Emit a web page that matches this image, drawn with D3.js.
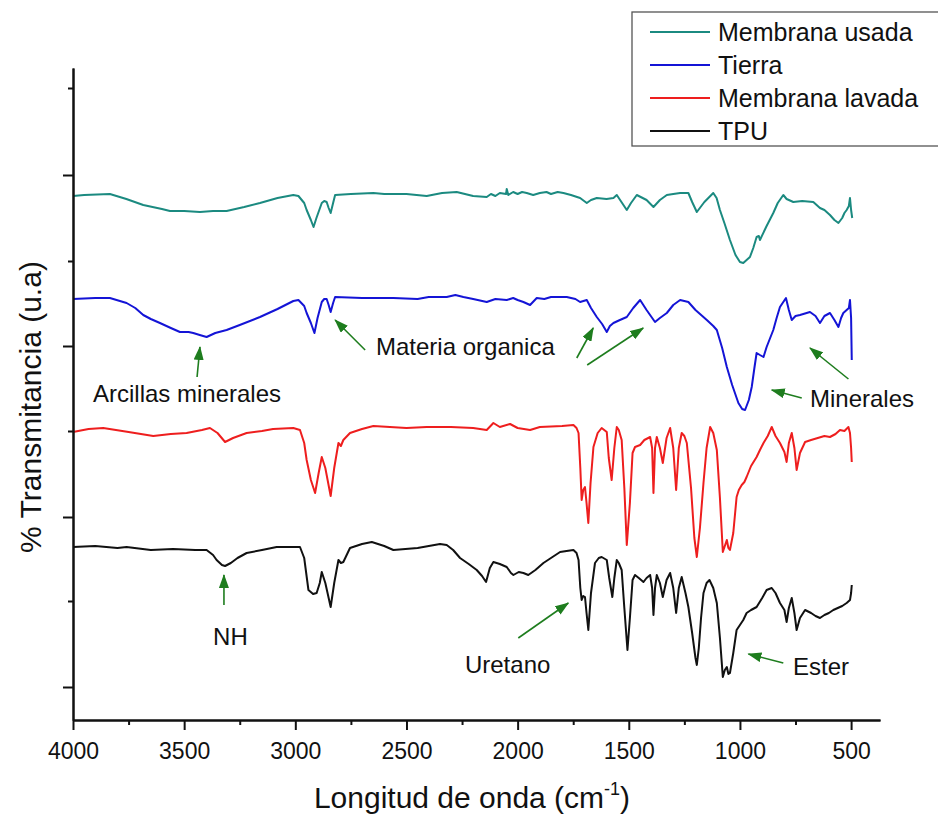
<!DOCTYPE html>
<html>
<head>
<meta charset="utf-8">
<script src="https://cdn.jsdelivr.net/npm/d3@7"></script>
<style>
  html, body { margin: 0; padding: 0; background: #fff; }
  svg { display: block; font-family: "Liberation Sans", Arial, sans-serif; }
</style>
</head>
<body>
<svg id="chart" width="938" height="818"></svg>
<script>
// ---------- DATA (wavenumber cm-1, transmittance in arbitrary units) ----------
const seriesNames = ["Membrana usada", "Tierra", "Membrana lavada", "TPU"];
const seriesColors = ["#1b8a80", "#1414d6", "#ee1e1e", "#111111"];

const usadaData = [[4000,522],[3950,523],[3834,524],[3760,519],[3684,513],[3600,509],[3564,507],[3500,507],[3429,506],[3370,507],[3309,507],[3230,511],[3159,515],[3080,520],[3009,523],[2986,522],[2960,515],[2949,508],[2930,498],[2918,491],[2905,500],[2881,515],[2870,517],[2859,516],[2850,510],[2841,505],[2830,515],[2821,523],[2750,524],[2649,525],[2600,524],[2500,524],[2409,522],[2340,525],[2274,526],[2200,522],[2139,521],[2120,524],[2100,522],[2080,525],[2052,524],[2049,529],[2042,523],[2020,526],[2000,524],[1980,526],[1959,525],[1930,523],[1900,525],[1870,526],[1850,524],[1820,526],[1794,525],[1760,523],[1719,520],[1689,515],[1670,518],[1644,520],[1600,519],[1569,520],[1554,523],[1530,515],[1509,508],[1490,515],[1464,523],[1420,518],[1389,511],[1360,518],[1329,523],[1300,524],[1269,525],[1232,525],[1215,516],[1194,506],[1160,516],[1120,525],[1105,520],[1090,508],[1070,495],[1045,478],[1020,463],[1000,456],[985,455],[970,458],[955,461],[940,470],[925,481],[915,482],[910,478],[880,492],[850,505],[830,515],[805,523],[790,519],[760,516],[720,517],[670,516],[640,510],[620,508],[595,503],[575,498],[557,495],[540,500],[530,505],[520,508],[510,512],[505,520],[500,508],[495,500]];

const tierraData = [[4000,419],[3900,420],[3834,420],[3759,415],[3720,410],[3684,403],[3650,399],[3609,395],[3560,390],[3519,386],[3480,386],[3459,385],[3430,383],[3399,381],[3360,385],[3309,388],[3250,393],[3159,401],[3080,409],[3009,417],[2986,418],[2960,412],[2949,405],[2930,395],[2914,385],[2900,400],[2881,416],[2870,419],[2859,419],[2850,413],[2841,406],[2830,415],[2821,421],[2700,420],[2559,420],[2450,419],[2400,421],[2319,421],[2280,423],[2244,421],[2200,419],[2139,416],[2100,419],[2049,418],[2020,420],[2000,418],[1974,416],[1944,413],[1914,420],[1880,419],[1850,421],[1779,421],[1740,419],[1719,416],[1689,418],[1670,410],[1644,401],[1620,394],[1599,386],[1585,392],[1569,395],[1540,398],[1509,401],[1480,410],[1449,418],[1420,408],[1382,396],[1360,400],[1329,405],[1300,413],[1269,418],[1232,416],[1200,408],[1149,398],[1120,392],[1104,388],[1080,370],[1059,351],[1035,333],[1007,315],[990,309],[977,308],[960,318],[947,331],[935,350],[925,365],[910,363],[894,361],[880,371],[850,388],[835,400],[820,411],[793,420],[780,408],[767,398],[750,402],[730,403],[685,406],[660,402],[640,395],[620,402],[595,405],[575,398],[557,391],[545,400],[535,405],[520,408],[510,410],[505,418],[500,400],[497,358]];

const lavadaData = [[4000,286],[3930,289],[3864,290],[3750,286],[3639,282],[3560,284],[3489,285],[3420,288],[3384,290],[3350,285],[3316,276],[3280,280],[3219,285],[3150,287],[3100,289],[3009,290],[2979,288],[2960,275],[2949,258],[2930,238],[2911,225],[2895,245],[2881,261],[2865,250],[2841,222],[2825,250],[2806,275],[2795,272],[2784,278],[2754,285],[2700,289],[2649,292],[2500,290],[2409,291],[2300,291],[2200,290],[2139,288],[2109,295],[2080,291],[2034,294],[2000,290],[1944,288],[1900,291],[1800,292],[1749,293],[1735,290],[1726,285],[1718,250],[1712,218],[1705,228],[1697,231],[1690,215],[1682,195],[1672,235],[1659,271],[1640,285],[1622,290],[1599,286],[1590,260],[1577,238],[1565,270],[1554,291],[1545,288],[1532,278],[1520,230],[1509,173],[1495,215],[1483,265],[1472,271],[1449,273],[1430,278],[1404,281],[1395,270],[1389,225],[1382,270],[1374,281],[1360,270],[1347,255],[1330,280],[1314,290],[1300,270],[1287,228],[1275,270],[1262,285],[1250,282],[1239,275],[1220,230],[1205,180],[1194,161],[1180,190],[1164,235],[1150,270],[1134,291],[1120,285],[1104,268],[1090,220],[1077,166],[1068,172],[1059,178],[1052,170],[1045,168],[1030,185],[1015,221],[1005,228],[992,233],[980,236],[970,241],[950,252],[925,261],[910,268],[894,275],[875,282],[857,291],[840,282],[820,275],[800,266],[790,256],[780,275],[767,285],[755,270],[745,248],[730,265],[707,276],[680,278],[650,280],[620,282],[595,281],[570,284],[550,288],[530,287],[512,291],[505,285],[500,270],[497,256]];

const tpuData = [[4000,171],[3900,172],[3800,170],[3759,171],[3650,168],[3550,169],[3450,168],[3399,168],[3370,163],[3354,158],[3330,153],[3316,152],[3290,155],[3260,160],[3219,165],[3150,168],[3084,171],[3030,171],[2979,171],[2960,160],[2941,128],[2920,124],[2904,125],[2890,135],[2881,146],[2865,135],[2841,111],[2825,135],[2806,158],[2795,155],[2784,156],[2754,170],[2700,174],[2656,176],[2600,172],[2559,168],[2450,170],[2349,174],[2319,173],[2290,168],[2259,160],[2220,154],[2184,148],[2160,142],[2142,136],[2125,150],[2109,156],[2080,154],[2049,151],[2030,145],[2019,143],[1995,146],[1974,145],[1952,143],[1920,148],[1884,155],[1850,160],[1809,166],[1780,167],[1749,168],[1735,165],[1726,158],[1718,130],[1712,118],[1705,122],[1697,121],[1690,105],[1682,88],[1670,125],[1652,155],[1635,160],[1622,161],[1599,158],[1588,140],[1574,121],[1565,140],[1554,158],[1545,155],[1532,148],[1520,110],[1506,68],[1495,100],[1483,138],[1472,143],[1455,140],[1434,136],[1420,140],[1404,143],[1395,130],[1389,103],[1382,130],[1374,143],[1360,135],[1347,121],[1330,138],[1314,145],[1300,130],[1287,105],[1275,130],[1262,141],[1245,125],[1232,111],[1215,85],[1200,60],[1194,53],[1185,70],[1175,100],[1164,125],[1150,135],[1137,138],[1120,130],[1104,115],[1090,80],[1077,41],[1068,48],[1059,51],[1052,44],[1045,45],[1030,65],[1015,88],[1000,93],[985,98],[970,105],[950,108],[925,111],[900,120],[880,128],[857,130],[840,125],[820,115],[800,108],[790,96],[780,110],[767,120],[755,105],[745,88],[730,100],[707,108],[680,105],[660,102],[640,100],[620,103],[600,105],[580,108],[560,110],[540,112],[520,115],[505,118],[500,125],[497,133]];

const xMajorTicks = [4000, 3500, 3000, 2500, 2000, 1500, 1000, 500];
const xMinorTicks = [3750, 3250, 2750, 2250, 1750, 1250, 750];
const yMajorTicks = [31, 201, 372, 543];
const yMinorTicks = [117, 287, 457, 630];

// annotations: label text, label anchor [w, v], arrows [[tailW, tailV, headW, headV], ...]
const annotationLabels = ["Arcillas minerales", "Materia organica", "Minerales", "NH", "Uretano", "Ester"];
const annotationPos = [[3910,316],[2637,363],[685,311],[3370,73],[2237,45],[761,43]];
const annotationArrows = [
  [[3442,341,3429,371]],
  [[2686,368,2821,398],[1734,360,1660,390],[1687,353,1435,390]],
  [[722,320,857,328],[512,339,685,370]],
  [[3321,113,3321,143]],
  [[1997,80,1772,115]],
  [[805,55,962,64]]
];

// ---------- CHART ----------
const svg = d3.select("#chart");
const x = d3.scaleLinear().domain([4000, 370]).range([73, 880]);
const y = d3.scaleLinear().domain([-2, 650]).range([720, 68]);

const allSeries = [usadaData, tierraData, lavadaData, tpuData];
const line = d3.line().x(d => x(d[0])).y(d => y(d[1]));

svg.append("g").selectAll("path").data(allSeries).join("path")
  .attr("d", d => line(d))
  .attr("fill", "none")
  .attr("stroke", (d, i) => seriesColors[i])
  .attr("stroke-width", 2)
  .attr("stroke-linejoin", "round");

// axes
const axisColor = "#111";
const xAxisMajor = svg.append("g").attr("transform", "translate(0,720)")
  .call(d3.axisBottom(x).tickValues(xMajorTicks).tickSize(10).tickSizeOuter(0).tickPadding(13).tickFormat(d3.format("d")));
const xAxisMinor = svg.append("g").attr("transform", "translate(0,720)")
  .call(d3.axisBottom(x).tickValues(xMinorTicks).tickSize(5).tickSizeOuter(0).tickFormat(""));
const yAxisMajor = svg.append("g").attr("transform", "translate(73,0)")
  .call(d3.axisLeft(y).tickValues(yMajorTicks).tickSize(10).tickSizeOuter(0).tickFormat(""));
const yAxisMinor = svg.append("g").attr("transform", "translate(73,0)")
  .call(d3.axisLeft(y).tickValues(yMinorTicks).tickSize(5).tickSizeOuter(0).tickFormat(""));

[xAxisMajor, xAxisMinor, yAxisMajor, yAxisMinor].forEach(g => {
  g.selectAll("path.domain").attr("stroke", axisColor).attr("stroke-width", 2);
  g.selectAll(".tick line").attr("stroke", axisColor).attr("stroke-width", 2);
  g.selectAll(".tick text").attr("fill", "#111").attr("font-size", 23)
    .attr("font-family", "'Liberation Sans', Arial, sans-serif");
});

// axis titles
const xTitle = svg.append("text")
  .attr("x", 472).attr("y", 808)
  .attr("text-anchor", "middle")
  .attr("font-size", 30).attr("fill", "#111");
xTitle.append("tspan").text("Longitud de onda (cm");
xTitle.append("tspan").attr("font-size", 18).attr("dy", -13).text("-1");
xTitle.append("tspan").attr("dy", 13).text(")");

svg.append("text")
  .attr("transform", "translate(41,407) rotate(-90)")
  .attr("text-anchor", "middle")
  .attr("font-size", 30).attr("fill", "#111")
  .text("% Transmitancia (u.a)");

// annotations
const green = "#1e7d1e";
const defs = svg.append("defs");
defs.append("marker")
  .attr("id", "arrowhead")
  .attr("markerUnits", "userSpaceOnUse")
  .attr("markerWidth", 14).attr("markerHeight", 10)
  .attr("refX", 13).attr("refY", 5)
  .attr("orient", "auto")
  .append("path").attr("d", "M0,0 L14,5 L0,10 Z").attr("fill", green);

const annG = svg.append("g");
annotationArrows.forEach(arrs => {
  arrs.forEach(a => {
    annG.append("line")
      .attr("x1", x(a[0])).attr("y1", y(a[1]))
      .attr("x2", x(a[2])).attr("y2", y(a[3]))
      .attr("stroke", green).attr("stroke-width", 1.6)
      .attr("marker-end", "url(#arrowhead)");
  });
});
annG.selectAll("text.ann").data(annotationLabels).join("text")
  .attr("class", "ann")
  .attr("x", (d, i) => x(annotationPos[i][0]))
  .attr("y", (d, i) => y(annotationPos[i][1]))
  .attr("font-size", 24).attr("fill", "#111")
  .text(d => d);

// legend
const legend = svg.append("g");
legend.append("rect")
  .attr("x", 632).attr("y", 12).attr("width", 320).attr("height", 134)
  .attr("fill", "#fff").attr("stroke", "#555").attr("stroke-width", 1.3);
const rowY = [32, 65, 98, 131];
seriesNames.forEach((name, i) => {
  legend.append("line")
    .attr("x1", 650).attr("x2", 710).attr("y1", rowY[i]).attr("y2", rowY[i])
    .attr("stroke", seriesColors[i]).attr("stroke-width", 2);
  legend.append("text")
    .attr("x", 718).attr("y", rowY[i] + 9)
    .attr("font-size", 25).attr("fill", "#111")
    .text(name);
});
</script>
</body>
</html>
